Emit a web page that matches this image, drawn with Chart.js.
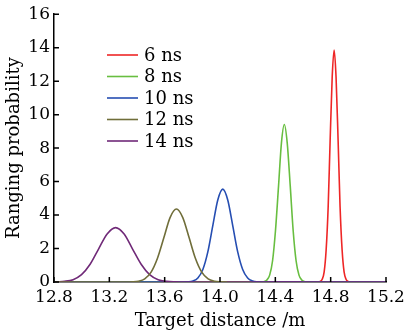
<!DOCTYPE html>
<html>
<head>
<meta charset="utf-8">
<script src="https://cdn.jsdelivr.net/npm/chart.js@4"></script>
<style>
  html, body { margin: 0; padding: 0; background: #fff; }
  #wrap { width: 407px; height: 335px; }
</style>
</head>
<body>
<div id="wrap"><canvas id="chart" width="407" height="335"></canvas></div>
<script>
// Valores (distancia en m, probabilidad)
const labels = ['6 ns', '8 ns', '10 ns', '12 ns', '14 ns'];

const redX = [12.8, 14.71, 14.724, 14.738, 14.753, 14.767, 14.782, 14.796, 14.811, 14.825, 14.839, 14.854, 14.868, 14.883, 14.897, 14.912, 14.926, 14.94, 15.2];
const redY = [0, 0, 0.03, 0.15, 0.61, 1.88, 4.50, 8.41, 12.23, 13.86, 12.23, 8.41, 4.50, 1.88, 0.61, 0.15, 0.03, 0, 0];

const greenX = [12.8, 14.295, 14.316, 14.337, 14.359, 14.380, 14.401, 14.423, 14.444, 14.465, 14.486, 14.508, 14.529, 14.550, 14.571, 14.593, 14.614, 14.635, 15.2];
const greenY = [0, 0, 0.02, 0.10, 0.41, 1.27, 3.06, 5.71, 8.30, 9.41, 8.30, 5.71, 3.06, 1.27, 0.41, 0.10, 0.02, 0, 0];

const blueX = [12.8, 13.732, 13.768, 13.804, 13.840, 13.876, 13.912, 13.948, 13.984, 14.020, 14.056, 14.092, 14.128, 14.164, 14.200, 14.236, 14.272, 14.308, 15.2];
const blueY = [0, 0, 0.01, 0.06, 0.24, 0.75, 1.80, 3.37, 4.90, 5.55, 4.90, 3.37, 1.80, 0.75, 0.24, 0.06, 0.01, 0, 0];

const oliveX = [12.8, 13.319, 13.365, 13.411, 13.456, 13.502, 13.548, 13.594, 13.639, 13.685, 13.731, 13.777, 13.822, 13.868, 13.914, 13.960, 14.005, 14.051];
const oliveY = [0, 0, 0.01, 0.05, 0.19, 0.59, 1.42, 2.64, 3.85, 4.36, 3.85, 2.64, 1.42, 0.59, 0.19, 0.05, 0.01, 0];

const purpleX = [12.8, 12.815, 12.876, 12.938, 12.999, 13.061, 13.122, 13.184, 13.245, 13.307, 13.368, 13.430, 13.491, 13.553, 13.614, 13.676, 13.737, 15.2];
const purpleY = [0, 0.01, 0.04, 0.14, 0.44, 1.06, 1.97, 2.87, 3.25, 2.87, 1.97, 1.06, 0.44, 0.14, 0.04, 0.01, 0, 0];

const colores = ['rgb(238,38,38)', 'rgb(104,190,64)', 'rgb(38,78,178)', 'rgb(112,110,58)', 'rgb(112,42,120)'];
const orden = [4, 3, 2, 0, 1]; // el oliva queda encima, luego el morado

const xTicks = [12.8, 13.2, 13.6, 14.0, 14.4, 14.8, 15.2];
const yTicks = [0, 2, 4, 6, 8, 10, 12, 14, 16];

const FONT = '"DejaVu Serif", serif';

function puntos(xs, ys) {
    return xs.map((x, i) => ({ x: x, y: ys[i] }));
}

const series = [[redX, redY], [greenX, greenY], [blueX, blueY], [oliveX, oliveY], [purpleX, purpleY]];

const datasets = series.map((s, i) => ({
    label: labels[i],
    data: puntos(s[0], s[1]),
    borderColor: colores[i],
    borderWidth: 1.6,
    pointRadius: 0,
    fill: false,
    cubicInterpolationMode: 'monotone',
    order: orden[i]
}));

// Marcas de los ejes hacia dentro
const ticksDentro = {
    id: 'ticksDentro',
    afterDraw(chart) {
        const ctx = chart.ctx;
        const xs = chart.scales.x, ys = chart.scales.y;
        const area = chart.chartArea;
        ctx.save();
        ctx.strokeStyle = '#000';
        ctx.lineWidth = 1.5;
        ctx.beginPath();
        xTicks.forEach(v => {
            const px = xs.getPixelForValue(v);
            ctx.moveTo(px, area.bottom);
            ctx.lineTo(px, area.bottom - 5);
        });
        yTicks.forEach(v => {
            const py = ys.getPixelForValue(v);
            ctx.moveTo(area.left, py);
            ctx.lineTo(area.left + 5, py);
        });
        ctx.stroke();
        ctx.restore();
    }
};

// Leyenda dibujada dentro del área del gráfico
const leyenda = {
    id: 'leyenda',
    afterDraw(chart) {
        const ctx = chart.ctx;
        ctx.save();
        ctx.font = '18px ' + FONT;
        ctx.textBaseline = 'middle';
        ctx.textAlign = 'left';
        chart.data.datasets.forEach((ds, i) => {
            const y = 55 + i * 21.5;
            ctx.strokeStyle = ds.borderColor;
            ctx.lineWidth = 1.6;
            ctx.beginPath();
            ctx.moveTo(107, y);
            ctx.lineTo(138, y);
            ctx.stroke();
            ctx.fillStyle = '#000';
            ctx.fillText(ds.label, 144, y + 1);
        });
        ctx.restore();
    }
};

new Chart(document.getElementById('chart'), {
    type: 'line',
    data: { datasets: datasets },
    options: {
        responsive: false,
        animation: false,
        layout: { padding: { top: 6, right: 0, left: 0, bottom: 0 } },
        plugins: {
            legend: { display: false },
            tooltip: { enabled: false }
        },
        scales: {
            x: {
                type: 'linear',
                min: 12.8,
                max: 15.2,
                afterBuildTicks(scale) {
                    scale.ticks = xTicks.map(v => ({ value: v }));
                },
                afterFit(scale) {
                    scale.height = 53;
                    scale.paddingRight = 21;
                },
                grid: { display: false, drawTicks: false },
                border: { display: true, color: '#000', width: 1.5 },
                ticks: {
                    color: '#000',
                    font: { family: FONT, size: 17 },
                    padding: 5,
                    maxRotation: 0,
                    callback: v => v.toFixed(1)
                },
                title: {
                    display: true,
                    text: 'Target distance /m',
                    color: '#000',
                    font: { family: FONT, size: 18 },
                    padding: { top: 0, bottom: 3 }
                }
            },
            y: {
                min: 0,
                max: 16,
                afterBuildTicks(scale) {
                    scale.ticks = yTicks.map(v => ({ value: v }));
                },
                afterFit(scale) { scale.width = 54; },
                grid: { display: false, drawTicks: false },
                border: { display: true, color: '#000', width: 1.5 },
                ticks: {
                    color: '#000',
                    font: { family: FONT, size: 17 },
                    padding: 4
                },
                title: {
                    display: true,
                    text: 'Ranging probability',
                    color: '#000',
                    font: { family: FONT, size: 18 },
                    padding: { top: 4, bottom: 0 }
                }
            }
        }
    },
    plugins: [ticksDentro, leyenda]
});
</script>
</body>
</html>
